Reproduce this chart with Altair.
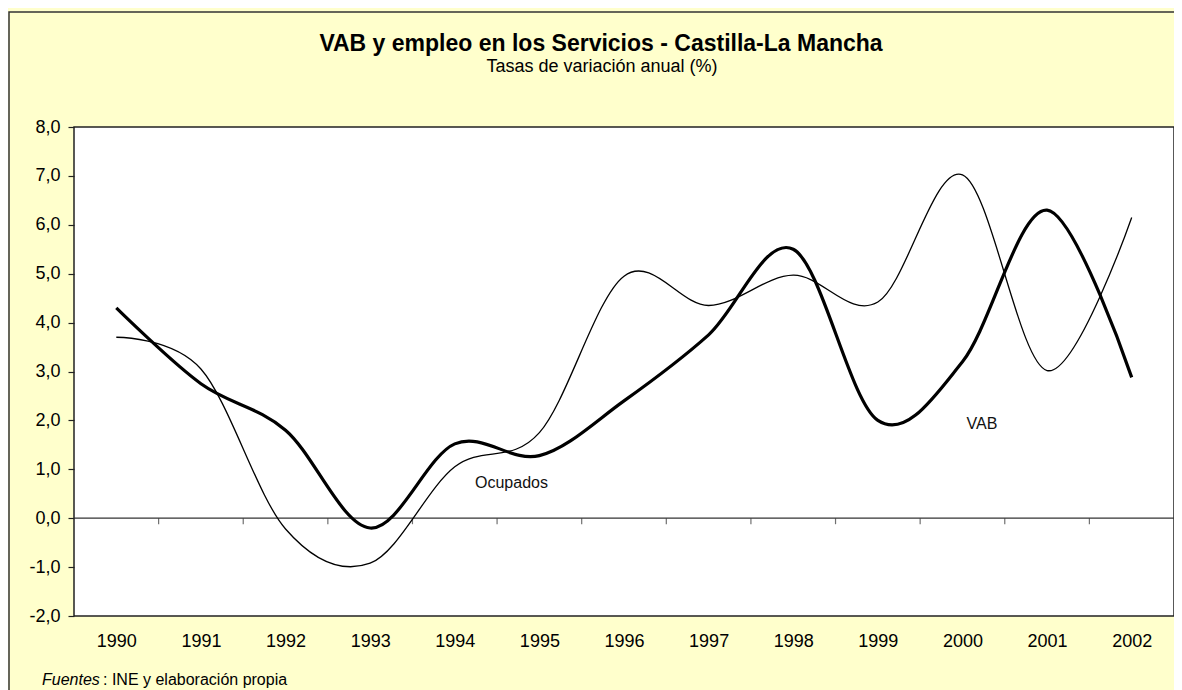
import altair as alt
import pandas as pd

# ---- data ----
years = [1990, 1991, 1992, 1993, 1994, 1995, 1996, 1997, 1998, 1999, 2000, 2001, 2002]
vab = [4.3, 2.75, 1.8, -0.2, 1.52, 1.28, 2.4, 3.75, 5.5, 2.0, 3.2, 6.3, 2.88]
ocupados = [3.7, 3.05, -0.22, -0.92, 1.05, 1.75, 4.95, 4.35, 4.97, 4.42, 7.02, 3.02, 6.15]
y_ticks = [-2, -1, 0, 1, 2, 3, 4, 5, 6, 7, 8]
label_text = ["Ocupados", "VAB"]
label_year = [1994.67, 2000.23]
label_value = [0.72, 1.92]

title_text = "VAB y empleo en los Servicios - Castilla-La Mancha"
subtitle_text = "Tasas de variación anual (%)"
source_italic = "Fuentes"
source_rest = ": INE y elaboración propia"

FONT = "Liberation Sans"
W, H = 1100, 489

df_vab = pd.DataFrame({"year": years, "valor": vab})
df_ocu = pd.DataFrame({"year": years, "valor": ocupados})
df_years = pd.DataFrame({"year": years})
df_labels = pd.DataFrame({"year": label_year, "valor": label_value, "txt": label_text})
one = pd.DataFrame({"a": [0]})

x_scale = alt.Scale(domain=[1989.5, 2002.5], nice=False, zero=False)
y_scale = alt.Scale(domain=[-2, 8], nice=False, zero=False)

x_axis = alt.Axis(values=years, format="d", grid=False, domain=False, ticks=False,
                  tickSize=0, labelFontSize=18, labelPadding=16, labelColor="#000",
                  labelFont=FONT, title=None)
y_axis = alt.Axis(values=y_ticks, grid=False, domain=False, tickSize=6, tickColor="#222",
                  tickWidth=1.2,
                  labelExpr="(datum.value < 0 ? '-' : '') + replace(format(abs(datum.value), '.1f'), '.', ',')",
                  labelFontSize=18, labelPadding=8, labelColor="#000", labelFont=FONT,
                  title=None)


def X(field):
    return alt.X(field, scale=x_scale, axis=x_axis)


def Y(field):
    return alt.Y(field, scale=y_scale, axis=y_axis)


frame = alt.Chart(one).mark_rect(fillOpacity=0, stroke="#333", strokeWidth=1.5).encode(
    x=alt.value(-65), x2=alt.value(W + 40), y=alt.value(-115), y2=alt.value(H + 120)
)

# horizontal axis line at zero, spanning the whole plot
zero_rule = alt.Chart(df_years).transform_calculate(z="0").mark_rule(
    color="#333", strokeWidth=1.2).encode(
    y=Y("min(z):Q")
)

ticks = alt.Chart(df_years).transform_filter("datum.year < 2002").transform_calculate(
    b="datum.year + 0.5", z="0"
).mark_tick(orient="vertical", size=6, thickness=1.2, yOffset=3, color="#333").encode(
    x=X("b:Q"),
    y=Y("z:Q"),
)

line_ocu = alt.Chart(df_ocu).mark_line(interpolate="cardinal", color="#000", strokeWidth=1.3).encode(
    x=X("year:Q"),
    y=Y("valor:Q"),
)
line_vab = alt.Chart(df_vab).mark_line(interpolate="cardinal", color="#000", strokeWidth=3.2).encode(
    x=X("year:Q"),
    y=Y("valor:Q"),
)

labels = alt.Chart(df_labels).mark_text(font=FONT, fontSize=16, color="#111",
                                        align="center", baseline="middle").encode(
    x=X("year:Q"),
    y=Y("valor:Q"),
    text="txt:N",
)

title = alt.Chart(one).mark_text(text=title_text, font=FONT, fontSize=23, fontWeight="bold",
                                 align="center", baseline="alphabetic", color="#000").encode(
    x=alt.value(527), y=alt.value(-76)
)
subtitle = alt.Chart(one).mark_text(text=subtitle_text, font=FONT, fontSize=18,
                                    align="center", baseline="alphabetic", color="#000").encode(
    x=alt.value(528), y=alt.value(-55)
)
src1 = alt.Chart(one).mark_text(text=source_italic, font=FONT, fontSize=16, fontStyle="italic",
                                align="left", baseline="alphabetic", color="#000").encode(
    x=alt.value(-32), y=alt.value(H + 69)
)
src2 = alt.Chart(one).mark_text(text=source_rest, font=FONT, fontSize=16,
                                align="left", baseline="alphabetic", color="#000").encode(
    x=alt.value(29), y=alt.value(H + 69)
)

chart = alt.layer(
    frame, zero_rule, ticks, line_ocu, line_vab, labels, title, subtitle, src1, src2
).properties(
    width=W, height=H,
    autosize=alt.AutoSizeParams(type="none"),
    padding={"left": 66, "top": 119, "right": 0, "bottom": 74},
    background="#FFFFCC",
).configure_view(
    fill="#FFFFFF", stroke="#222", strokeWidth=1.5
)

chart.save("out.html", embed_options={"renderer": "svg", "actions": False})
